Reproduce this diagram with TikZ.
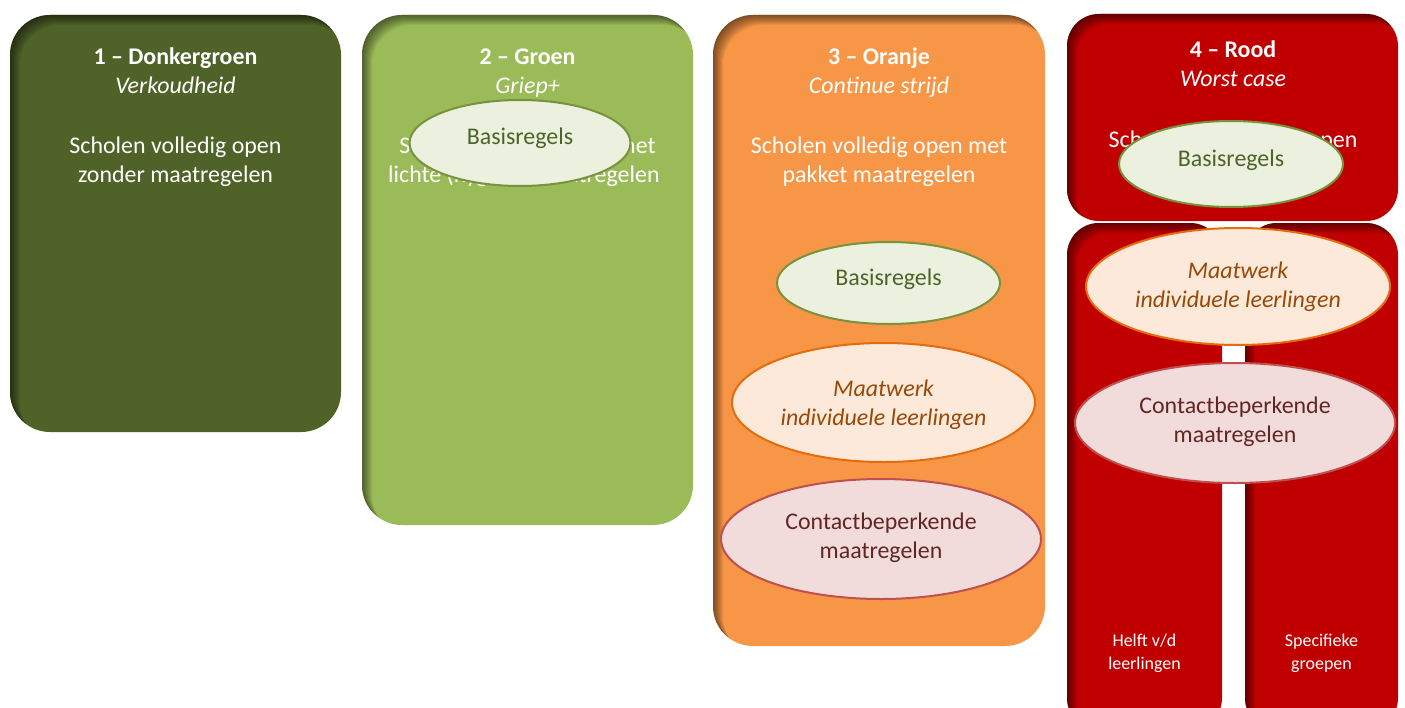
\documentclass[tikz,border=0pt]{standalone}
\usepackage{fontspec}
\setmainfont{Carlito}
\usetikzlibrary{shapes.geometric}
\definecolor{dgreen}{HTML}{4F6228}
\definecolor{lgreen}{HTML}{9BBB59}
\definecolor{orangebox}{HTML}{F79646}
\definecolor{redbox}{HTML}{C00000}
\definecolor{basisfill}{HTML}{EBF1DE}
\definecolor{basisline}{HTML}{77933C}
\definecolor{basistxt}{HTML}{4F6228}
\definecolor{maatfill}{HTML}{FDE9D9}
\definecolor{maatline}{HTML}{E46C0A}
\definecolor{maattxt}{HTML}{984807}
\definecolor{confill}{HTML}{F2DCDB}
\definecolor{conline}{HTML}{C0504D}
\definecolor{contxt}{HTML}{632523}
\newcommand{\shadedbox}[6]{%
  \fill[#6, rounded corners=#5bp] (#1,#2) rectangle (#3,#4);
  \begin{scope}
    \clip[rounded corners=#5bp] (#1,#2) rectangle (#3,#4);
    \foreach \k in {1,...,10} {
      \fill[black, opacity=0.06, even odd rule] ({#1-60},{#2-60}) rectangle ({#3+60},{#4+60})
        [rounded corners=#5bp] ({#1+\k},{#2+\k}) rectangle ({#3+\k},{#4+\k});
    }
  \end{scope}
}
\tikzset{
  boxtext/.style={text=white, anchor=base, inner sep=0pt, font=\fontsize{24}{29}\selectfont},
  titletext/.style={boxtext, font=\fontsize{24}{29}\selectfont\bfseries},
  subtext/.style={boxtext, font=\fontsize{24}{29}\selectfont\itshape},
  smalltext/.style={boxtext, font=\fontsize{18}{23}\selectfont},
  oval/.style={ellipse, line width=2bp, inner sep=0pt},
  basis/.style={oval, draw=basisline, fill=basisfill},
  maat/.style={oval, draw=maatline, fill=maatfill},
  contact/.style={oval, draw=conline, fill=confill},
  basistext/.style={anchor=base, inner sep=0pt, text=basistxt, font=\fontsize{24}{29}\selectfont},
  maattext/.style={anchor=base, inner sep=0pt, text=maattxt, font=\fontsize{24}{29}\selectfont\itshape},
  contacttext/.style={anchor=base, inner sep=0pt, text=contxt, font=\fontsize{24}{29}\selectfont},
}
\begin{document}
\begin{tikzpicture}[x=1bp, y=-1bp]
\useasboundingbox (0,0) rectangle (1405,707);
\clip (0,0) rectangle (1405,707);
\fill[white] (0,0) rectangle (1405,707);

% boxes
\shadedbox{10}{15}{341}{432}{40}{dgreen}
\shadedbox{362}{15}{693}{525}{40}{lgreen}
\shadedbox{713}{15}{1045}{646}{40}{orangebox}
\shadedbox{1067}{223}{1222}{730}{32}{redbox}
\shadedbox{1245}{223}{1398}{730}{32}{redbox}
\shadedbox{1067}{14}{1398}{221}{32}{redbox}

% box 1
\node[titletext] (t1) at (175.5,65) {1 – Donkergroen};
\node[subtext] (s1) at (175.5,94) {Verkoudheid};
\node[boxtext] (a1) at (175.5,153) {Scholen volledig open};
\node[boxtext] (c1) at (175.5,182) {zonder maatregelen};

% box 2
\node[titletext] (t2) at (527.5,65) {2 – Groen};
\node[subtext] (s2) at (527.5,94) {Griep+};
\node[boxtext] (a2) at (527.5,153) {Scholen volledig open met};
\node[boxtext, anchor=base west] (c2) at (388,182) {lichte (hygiëne)maatregelen};

% box 3
\node[titletext] (t3) at (879,65) {3 – Oranje};
\node[subtext] (s3) at (879,94) {Continue strijd};
\node[boxtext] (a3) at (879,153) {Scholen volledig open met};
\node[boxtext] (c3) at (879,182) {pakket maatregelen};

% box 4
\node[titletext] (t4) at (1233,58) {4 – Rood};
\node[subtext] (s4) at (1233,87) {Worst case};
\node[boxtext] (a4) at (1233,147) {Scholen gedeeltelijk open};
\node[smalltext] (h1) at (1144.5,646) {Helft v/d};
\node[smalltext] (h2) at (1144.5,669) {leerlingen};
\node[smalltext] (g1) at (1321.5,646) {Specifieke};
\node[smalltext] (g2) at (1321.5,669) {groepen};

% ellipses box 2
\node[basis, minimum width=221bp, minimum height=86bp] (e2b) at (520,143) {};
\node[basistext] (e2bt) at (520,144) {Basisregels};

% ellipses box 3
\node[basis, minimum width=223bp, minimum height=82bp] (e3b) at (888.5,283) {};
\node[basistext] (e3bt) at (888.5,285) {Basisregels};
\node[maat, minimum width=303bp, minimum height=119bp] (e3m) at (883.5,402.5) {};
\node[maattext] (e3m1) at (883.5,396) {Maatwerk};
\node[maattext] (e3m2) at (883.5,425) {individuele leerlingen};
\node[contact, minimum width=320bp, minimum height=120bp] (e3c) at (881,539) {};
\node[contacttext] (e3c1) at (881,529) {Contactbeperkende};
\node[contacttext] (e3c2) at (881,558) {maatregelen};

% ellipses box 4
\node[basis, minimum width=224bp, minimum height=86bp] (e4b) at (1231,164) {};
\node[basistext] (e4bt) at (1231,166) {Basisregels};
\node[maat, minimum width=304bp, minimum height=117bp] (e4m) at (1238,286.5) {};
\node[maattext] (e4m1) at (1238,278) {Maatwerk};
\node[maattext] (e4m2) at (1238,307) {individuele leerlingen};
\node[contact, minimum width=320bp, minimum height=120bp] (e4c) at (1235,423) {};
\node[contacttext] (e4c1) at (1235,413) {Contactbeperkende};
\node[contacttext] (e4c2) at (1235,442) {maatregelen};
\end{tikzpicture}
\end{document}
